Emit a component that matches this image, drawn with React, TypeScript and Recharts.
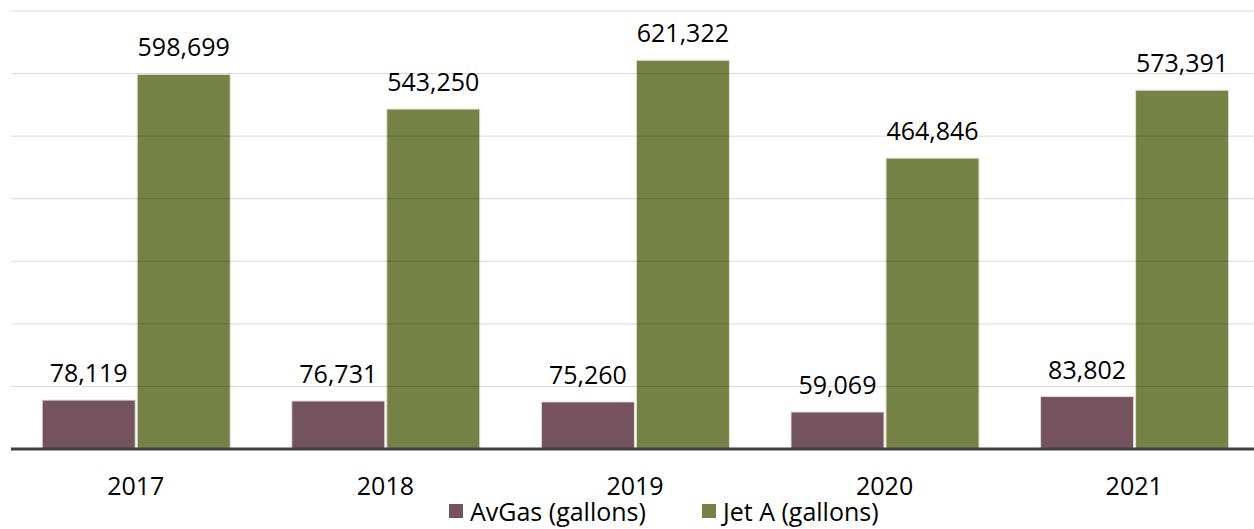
import React from "react";
import { BarChart, Bar, XAxis, YAxis, ReferenceLine, LabelList, Legend } from "recharts";

const years = ["2017", "2018", "2019", "2020", "2021"];
const avgas = [78119, 76731, 75260, 59069, 83802];
const jetA = [598699, 543250, 621322, 464846, 573391];
const yTicks = [100000, 200000, 300000, 400000, 500000, 600000, 700000];
const seriesNames = ["AvGas (gallons)", "Jet A (gallons)"];
const seriesColors = ["#74525E", "#758145"];

const data = years.map((y, i) => ({ year: y, avgas: avgas[i], jetA: jetA[i] }));

const FONT = "'Open Sans', 'Noto Sans', sans-serif";
const fmt = (v: any) => Number(v).toLocaleString("en-US");

const LegendContent = () => (
  <div style={{ display: "flex", fontFamily: FONT, fontSize: 25, lineHeight: "25px", height: 25, color: "#000" }}>
    {seriesNames.map((n, i) => (
      <div key={n} style={{ display: "flex", alignItems: "center", width: i === 0 ? 253 : "auto" }}>
        <span style={{ display: "inline-block", width: 14, height: 14, background: seriesColors[i], marginRight: 7, marginTop: -2 }} />
        <span>{n}</span>
      </div>
    ))}
  </div>
);

export default function App() {
  return (
    <div style={{ position: "absolute", left: 0, top: 0, width: 1254, height: 529, overflow: "hidden", background: "#fff" }}>
      <BarChart
        width={1259}
        height={529}
        data={data}
        margin={{ top: 11, right: 0, left: 11, bottom: 0 }}
        barCategoryGap="12.5%"
        barGap={2}
      >
        <YAxis hide domain={[0, 700000]} ticks={yTicks} type="number" />
        <XAxis
          dataKey="year"
          height={50}
          tickLine={false}
          axisLine={{ stroke: "#404040", strokeWidth: 3 }}
          tick={{ fontSize: 25, fill: "#000", fontFamily: FONT }}
          tickMargin={22}
        />
        <Bar dataKey="avgas" name={seriesNames[0]} fill={seriesColors[0]} stroke="#e3dcde" strokeWidth={1} isAnimationActive={false}>
          <LabelList dataKey="avgas" position="top" offset={18} formatter={fmt} style={{ fontSize: 25, fill: "#000", fontFamily: FONT }} />
        </Bar>
        <Bar dataKey="jetA" name={seriesNames[1]} fill={seriesColors[1]} stroke="#dfe3d2" strokeWidth={1} isAnimationActive={false}>
          <LabelList dataKey="jetA" position="top" offset={18} formatter={fmt} style={{ fontSize: 25, fill: "#000", fontFamily: FONT }} />
        </Bar>
        {yTicks.map((t) => (
          <ReferenceLine key={t} y={t} stroke="#000" strokeOpacity={0.15} strokeWidth={1} />
        ))}
        <Legend verticalAlign="bottom" height={30} content={<LegendContent />} wrapperStyle={{ left: 449, width: "auto", bottom: 0 }} />
      </BarChart>
    </div>
  );
}
